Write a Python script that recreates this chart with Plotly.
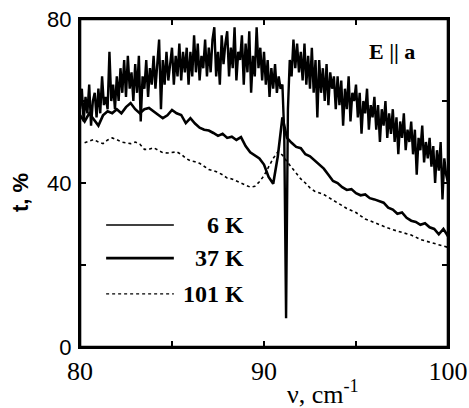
import plotly.graph_objects as go

# ---- data ----
nu_start_6K = 80.0
nu_step_6K = 0.1
t_6K = [
    58, 63, 55, 61, 57, 64, 54, 60, 62, 56,
    63, 57, 66, 59, 61, 58, 72, 60, 64, 58,
    66, 60, 68, 62, 70, 61, 71, 63, 67, 60,
    69, 62, 71, 55, 66, 63, 70, 61, 68, 64,
    71, 63, 69, 75, 58, 70, 64, 72, 65, 69,
    73, 64, 71, 66, 74, 65, 72, 67, 73, 64,
    72, 66, 76, 67, 74, 65, 71, 68, 75, 66,
    73, 67, 75, 78, 66, 72, 64, 76, 69, 74,
    77, 66, 73, 68, 78, 65, 72, 70, 76, 64,
    74, 67, 77, 62, 71, 66, 78, 68, 73, 65,
    72, 64, 70, 61, 68, 63, 69, 62, 66, 63,
    64, 52, 7, 58, 70, 66, 75, 68, 74, 67,
    72, 65, 74, 64, 71, 63, 73, 62, 70, 56,
    70, 62, 68, 60, 69, 59, 67, 63, 66, 58,
    66, 59, 65, 54, 63, 58, 66, 55, 62, 60,
    64, 56, 62, 52, 60, 57, 63, 53, 59, 56,
    61, 53, 59, 50, 58, 54, 60, 51, 57, 52,
    58, 50, 56, 47, 55, 51, 57, 48, 53, 50,
    55, 47, 53, 42, 51, 48, 54, 45, 50, 46,
    51, 44, 49, 40, 48, 43, 50, 36, 46, 42,
    40,
]

nu_start_37K = 80.0
nu_step_37K = 0.25
t_37K = [
    56.5, 55.0, 57.0, 55.5, 54.0, 56.5, 57.5, 57.0, 58.0, 57.0,
    58.5, 59.5, 58.0, 57.0, 58.0, 58.3, 57.5, 56.5, 55.8, 56.5,
    57.8, 57.0, 56.6, 54.6, 55.8, 54.5, 53.5, 53.0, 52.8, 52.2,
    51.5, 52.0, 51.0, 51.3, 50.5, 51.2, 49.0, 47.5, 46.8, 46.0,
    44.5, 41.5, 39.8, 46.5, 56.0, 51.0, 49.8, 48.8, 48.5, 47.0,
    46.5, 45.5, 44.5, 43.5, 42.0, 40.5, 40.0, 39.0, 38.3, 38.5,
    37.5, 37.0, 37.2, 36.3, 36.0, 35.5, 35.2, 34.0, 33.5, 32.5,
    32.8, 31.5, 30.8, 30.5, 29.8, 30.2, 29.2, 28.8, 27.5, 28.8,
    27.0,
]

nu_start_101K = 80.25
nu_step_101K = 0.25
t_101K = [
    49.8, 50.3, 50.6, 50.0, 49.6, 50.5, 51.0, 50.6, 50.0, 49.8,
    49.6, 50.0, 49.5, 48.2, 48.2, 48.6, 48.0, 47.4, 47.3, 47.5,
    47.6, 47.0, 46.0, 45.4, 45.2, 44.8, 44.0, 43.3, 43.0, 42.6,
    42.0, 41.2, 41.0, 40.5, 40.0, 39.6, 39.0, 39.2, 40.3, 41.8,
    43.8, 46.0, 47.6, 46.8, 45.2, 43.8, 42.3, 41.0, 40.0, 38.8,
    38.0, 37.6, 37.2, 36.5, 35.8, 35.0, 34.4, 33.8, 33.3, 32.8,
    32.0, 31.2, 30.8, 30.3, 29.8, 29.5, 29.0, 28.6, 28.3, 28.0,
    27.7, 27.3, 26.8, 26.2, 25.9, 25.6, 25.3, 25.0, 24.7, 24.3,
]

x_ticks = [80, 85, 90, 95, 100]
x_ticktext = ["80", "", "90", "", "100"]
y_ticks = [0, 20, 40, 60, 80]
y_ticktext = ["0", "", "40", "", "80"]

legend_labels = ["6 K", "37 K", "101 K"]


def grid(start, step, n):
    return [round(start + step * i, 4) for i in range(n)]


SERIF = "Liberation Serif"
SANS = "Liberation Sans"

fig = go.Figure()
fig.add_trace(go.Scatter(
    x=grid(nu_start_6K, nu_step_6K, len(t_6K)), y=t_6K, mode="lines",
    name=legend_labels[0], line=dict(color="black", width=2.4)))
fig.add_trace(go.Scatter(
    x=grid(nu_start_37K, nu_step_37K, len(t_37K)), y=t_37K, mode="lines",
    name=legend_labels[1], line=dict(color="black", width=2.6)))
fig.add_trace(go.Scatter(
    x=grid(nu_start_101K, nu_step_101K, len(t_101K)), y=t_101K, mode="lines",
    name=legend_labels[2], line=dict(color="black", width=1.6, dash="dot")))

# hand-made legend (line samples + right-aligned labels)
leg_y = [0.372, 0.271, 0.162]
leg_w = [1.5, 2.6, 1.4]
leg_dash = ["solid", "solid", "dot"]
for lab, yy, w, d in zip(legend_labels, leg_y, leg_w, leg_dash):
    fig.add_shape(type="line", xref="paper", yref="paper",
                  x0=0.071, x1=0.255, y0=yy, y1=yy,
                  line=dict(color="black", width=w, dash=d))
    fig.add_annotation(xref="paper", yref="paper", x=0.45, y=yy,
                       xanchor="right", yanchor="middle", text="<b>" + lab + "</b>",
                       showarrow=False,
                       font=dict(family=SERIF, size=24, color="black"))

# plot frame
fig.add_shape(type="rect", xref="paper", yref="paper", x0=0, x1=1, y0=0, y1=1,
              line=dict(color="black", width=2.6), layer="above")

fig.add_annotation(xref="paper", yref="paper", x=0.915, y=0.902,
                   xanchor="right", yanchor="middle", text="<b>E || a</b>",
                   showarrow=False,
                   font=dict(family=SERIF, size=22, color="black"))

# axis titles placed as in the reference
fig.add_annotation(xref="paper", yref="paper", x=0.66, y=-0.14,
                   xanchor="center", yanchor="middle",
                   text="ν, cm<sup>-1</sup>", showarrow=False,
                   font=dict(family=SERIF, size=26, color="black"))
fig.add_annotation(xref="paper", yref="paper", x=-0.16, y=0.47,
                   xanchor="center", yanchor="middle", textangle=-90,
                   text="<b>t, %</b>", showarrow=False,
                   font=dict(family=SANS, size=22, color="black"))

fig.update_layout(
    width=469, height=408,
    margin=dict(l=80, r=21, t=19, b=61, autoexpand=False),
    paper_bgcolor="white", plot_bgcolor="white",
    showlegend=False,
    font=dict(family=SERIF, color="black"),
)
fig.update_xaxes(
    range=[80, 100], tickvals=x_ticks, ticktext=x_ticktext,
    ticks="inside", ticklen=6, tickwidth=2, tickcolor="black",
    showline=True, linewidth=2.2, linecolor="black", mirror="ticks",
    showgrid=False, zeroline=False, automargin=False,
    tickfont=dict(family=SERIF, size=26, color="black"),
)
fig.update_yaxes(
    range=[0, 80], tickvals=y_ticks, ticktext=y_ticktext,
    ticks="inside", ticklen=6, tickwidth=2, tickcolor="black",
    showline=True, linewidth=2.2, linecolor="black", mirror="ticks",
    showgrid=False, zeroline=False, automargin=False,
    tickfont=dict(family=SANS, size=22, color="black"),
    ticklabelstandoff=2,
)

# remove the page's default body margin so the figure sits at the top-left corner
fig.write_html("out.html", config={"displayModeBar": False},
               post_script="document.body.style.margin='0';")
